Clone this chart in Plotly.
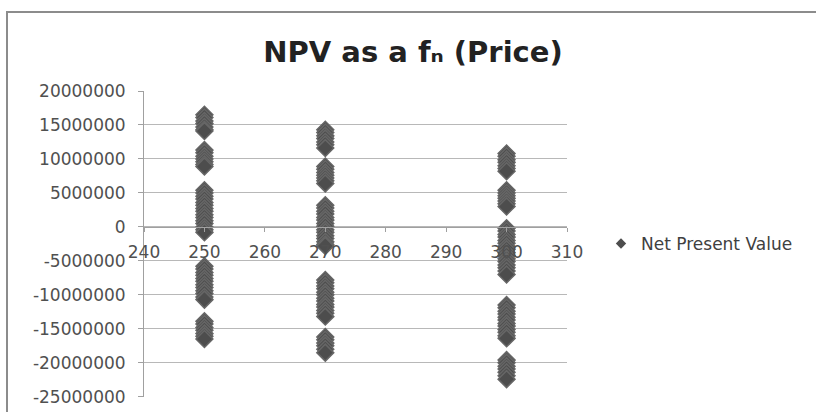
import plotly.graph_objects as go

# Net present value outcomes (in $ millions) at each selling price
npv_250_m = [
    16.5, 16.1, 15.6, 15.2, 14.7, 14.3, 14.1,
    11.3, 10.9, 10.4, 10.0, 9.6, 9.2, 8.9,
    5.4, 5.0, 4.5, 4.1, 3.6, 3.2, 2.7, 2.3, 1.8, 1.4, 0.9, 0.5, 0.0, -0.4, -0.8,
    -5.8, -6.2, -6.7, -7.1, -7.6, -8.0, -8.5, -8.9, -9.4, -9.8, -10.3, -10.7,
    -13.9, -14.3, -14.8, -15.2, -15.7, -16.1, -16.5,
]
npv_270_m = [
    14.3, 13.9, 13.4, 13.0, 12.5, 12.1, 11.6,
    8.9, 8.5, 8.0, 7.6, 7.2, 6.8, 6.4,
    3.2, 2.8, 2.3, 1.9, 1.4, 1.0, 0.5, 0.1, -0.4, -0.8, -1.3, -1.7, -2.2, -2.6, -2.8,
    -7.8, -8.2, -8.7, -9.1, -9.6, -10.0, -10.5, -10.9, -11.4, -11.8, -12.3, -12.7, -13.2,
    -16.2, -16.6, -17.1, -17.5, -18.0, -18.5,
]
npv_300_m = [
    10.8, 10.4, 9.9, 9.5, 9.0, 8.6, 8.2,
    5.4, 5.0, 4.6, 4.2, 3.8, 3.4, 3.0,
    -0.2, -0.6, -1.1, -1.5, -2.0, -2.4, -2.9, -3.3, -3.8, -4.2, -4.7, -5.1, -5.6, -6.0, -6.5, -7.0,
    -11.5, -11.9, -12.4, -12.8, -13.3, -13.7, -14.2, -14.6, -15.1, -15.5, -16.0, -16.4,
    -19.6, -20.0, -20.5, -20.9, -21.4, -21.9, -22.4,
]

y_tick_values = [20000000, 15000000, 10000000, 5000000, 0,
                 -5000000, -10000000, -15000000, -20000000, -25000000]
y_tick_labels = ["20000000", "15000000", "10000000", "5000000", "0",
                 "-5000000", "-10000000", "-15000000", "-20000000", "-25000000"]
x_tick_values = [240, 250, 260, 270, 280, 290, 300, 310]
x_tick_labels = ["240", "250", "260", "270", "280", "290", "300", "310"]

prices = [250] * len(npv_250_m) + [270] * len(npv_270_m) + [300] * len(npv_300_m)
npvs = [v * 1e6 for v in npv_250_m + npv_270_m + npv_300_m]

W, H = 816, 412
L, R, T, B = 144, 249, 91, 15
pw, ph = W - L - R, H - T - B

fig = go.Figure()
fig.add_trace(go.Scatter(
    x=prices, y=npvs, mode="markers", showlegend=False,
    name="Net Present Value",
    marker=dict(symbol="diamond", size=13, color="#4d4d4d",
                line=dict(color="#666666", width=1.5)),
))
# legend entry with a smaller key symbol
fig.add_trace(go.Scatter(
    x=[None], y=[None], mode="markers", name="Net Present Value",
    marker=dict(symbol="diamond", size=8, color="#4d4d4d"),
))

tick_font = dict(family="DejaVu Sans", size=17, color="#505050")

fig.update_layout(
    width=W, height=H,
    margin=dict(l=L, r=R, t=T, b=B),
    paper_bgcolor="white", plot_bgcolor="white",
    title=dict(text="<b>NPV as a fₙ (Price)</b>", x=413 / W, xanchor="center",
               y=1 - 52 / H, yanchor="middle",
               font=dict(family="DejaVu Sans", size=29, color="#222222")),
    legend=dict(x=(601 - L) / pw, xanchor="left", y=(H - B - 244) / ph, yanchor="middle",
                font=dict(family="DejaVu Sans", size=17, color="#404040"),
                bgcolor="rgba(0,0,0,0)", itemwidth=30, tracegroupgap=0),
    xaxis=dict(range=[240, 310], tickvals=x_tick_values, ticktext=x_tick_labels,
               anchor="free", position=25 / 45, showgrid=False, zeroline=False,
               showline=True, linecolor="#a0a0a0", linewidth=1,
               ticks="outside", ticklen=4, tickcolor="#a0a0a0",
               ticklabelstandoff=6, tickfont=tick_font, automargin=False),
    yaxis=dict(range=[-25.03e6, 20e6], tickvals=y_tick_values, ticktext=y_tick_labels,
               showgrid=True, gridcolor="#b8b8b8", gridwidth=1, zeroline=False,
               showline=True, linecolor="#a0a0a0", linewidth=1,
               ticks="outside", ticklen=5, tickcolor="#a0a0a0",
               ticklabelstandoff=9, tickfont=tick_font, automargin=False),
)

# chart frame
fig.add_shape(type="rect", xref="paper", yref="paper",
              x0=(7 - L) / pw, x1=(W + 10 - L) / pw,
              y0=-(40) / ph, y1=1 + (T - 12) / ph,
              line=dict(color="#8c8c8c", width=2), fillcolor="rgba(0,0,0,0)",
              layer="below")

fig.write_html("out.html")
